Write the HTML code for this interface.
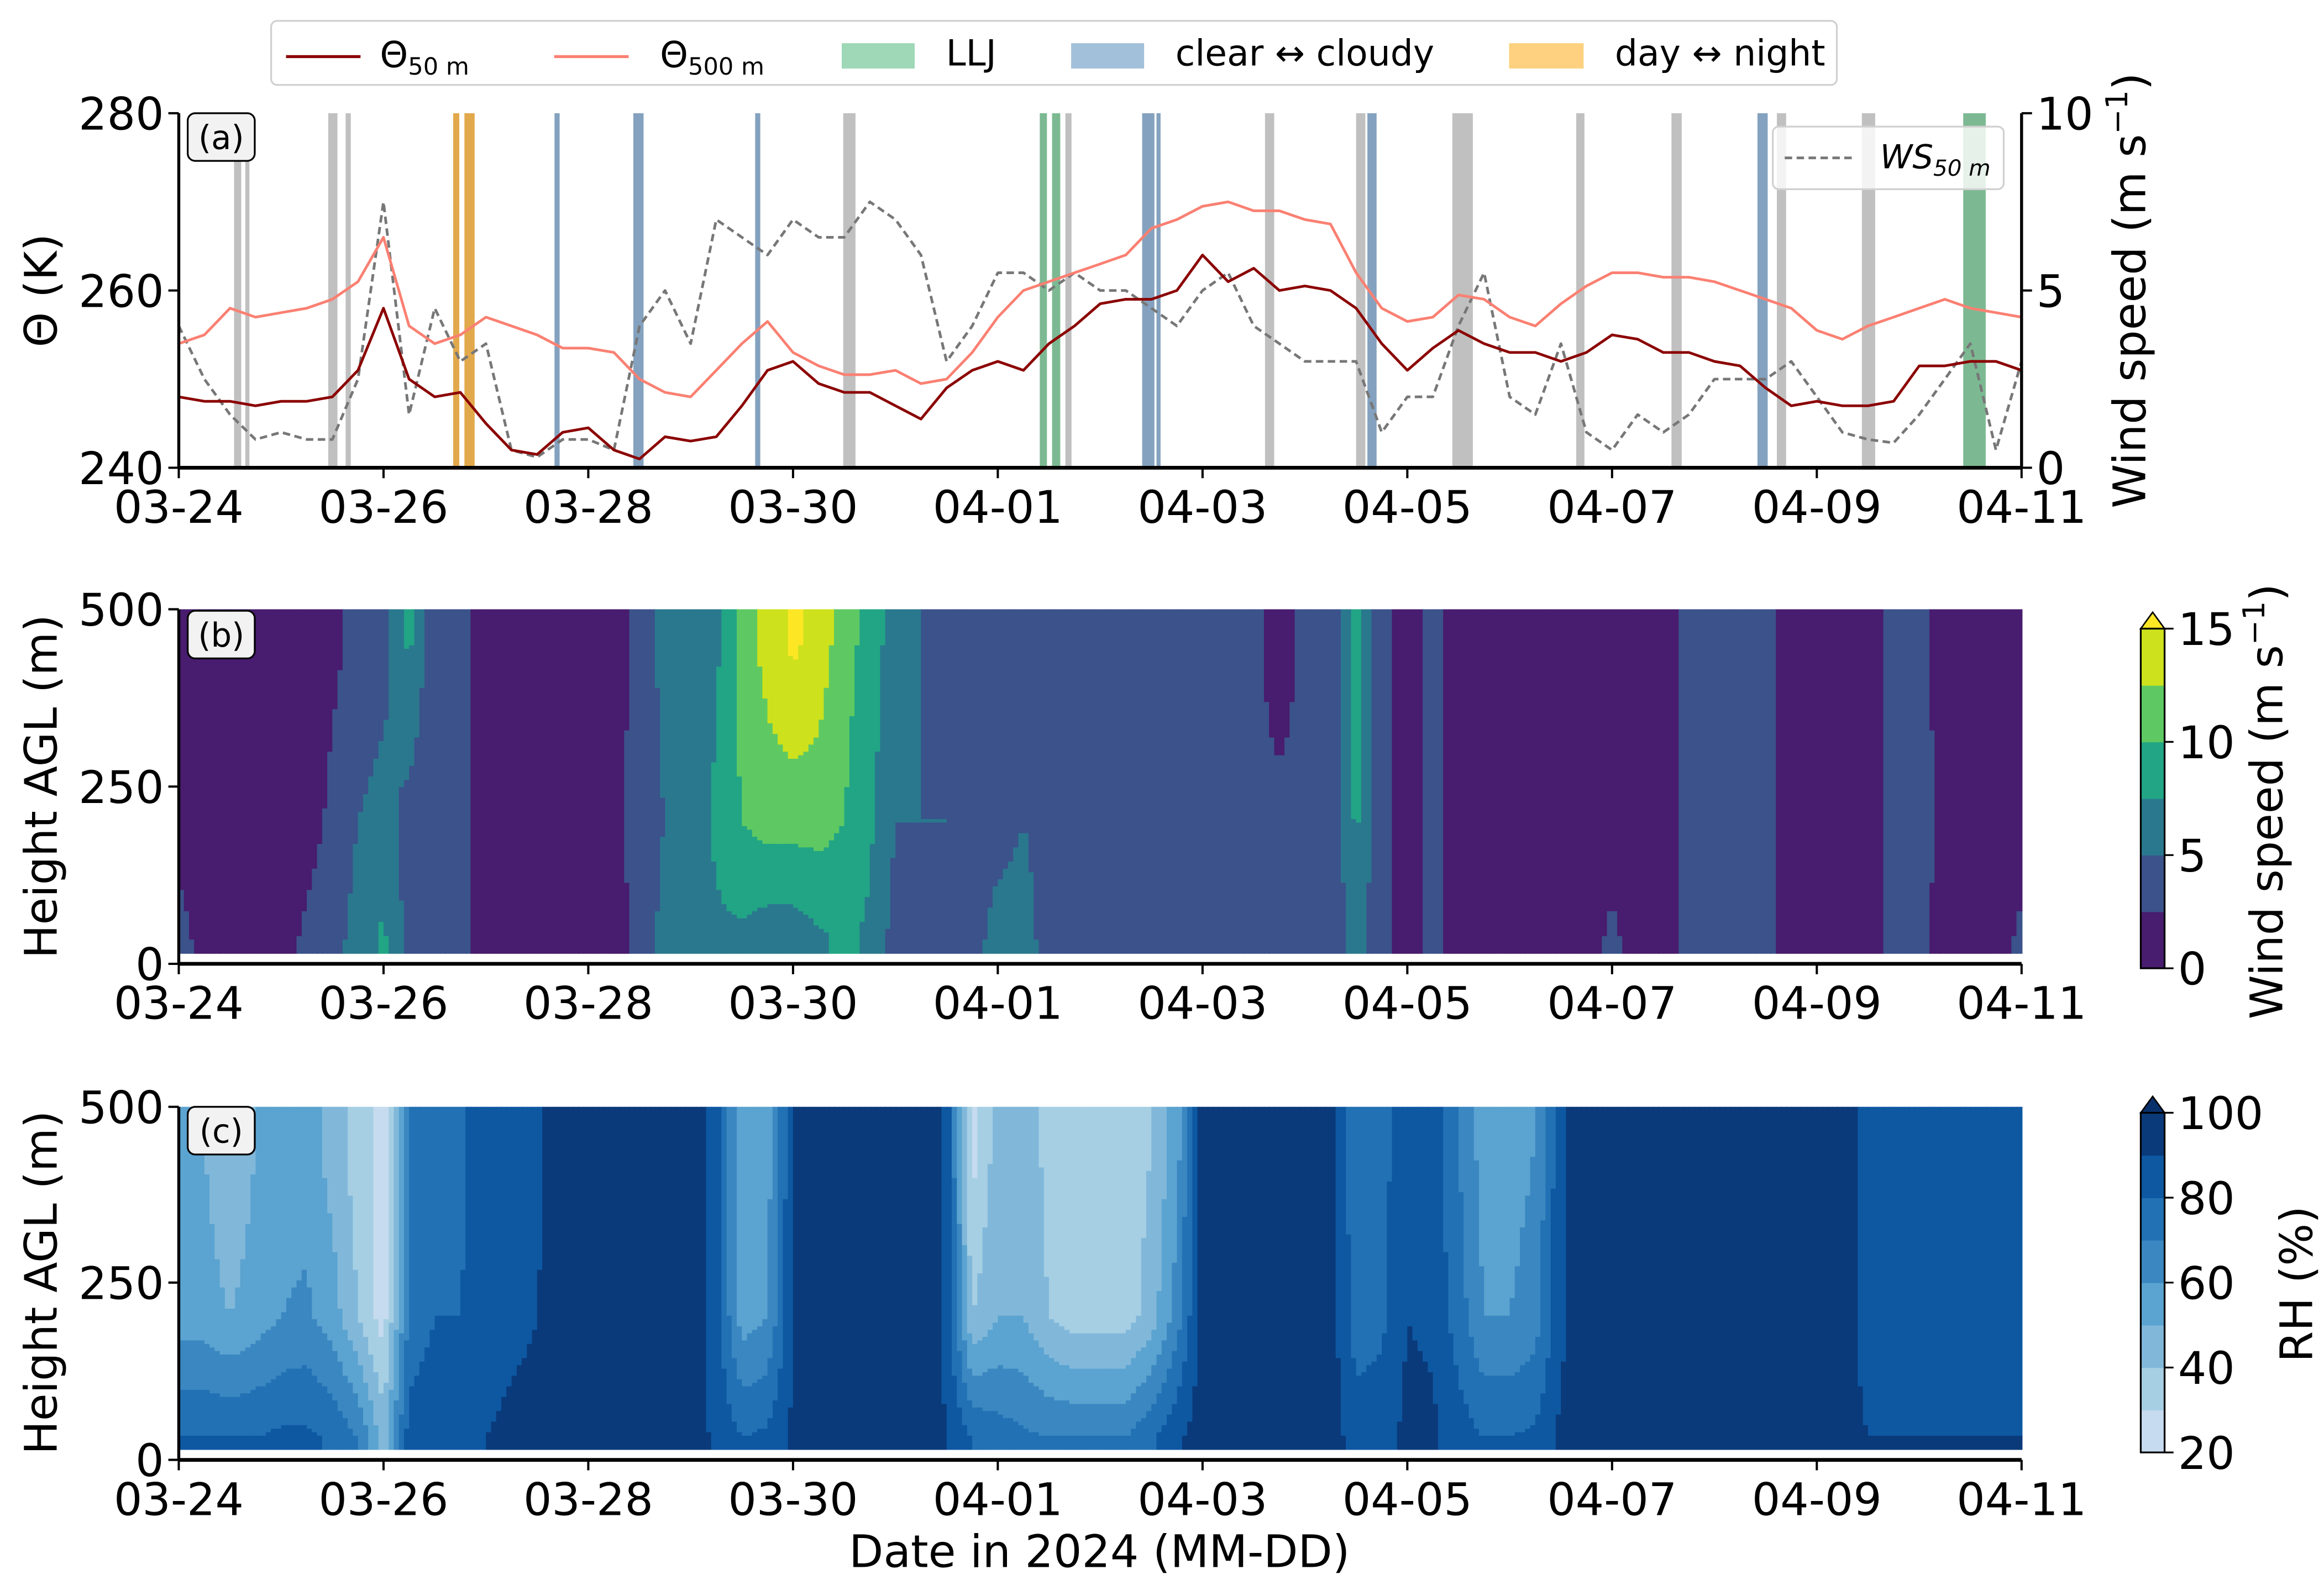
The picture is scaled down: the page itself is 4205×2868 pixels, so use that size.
<!DOCTYPE html>
<html><head><meta charset="utf-8"><style>
html,body{margin:0;padding:0;background:#fff}
svg{display:block}
text{font-family:"DejaVu Sans","Liberation Sans",sans-serif;fill:#000}
</style></head><body>
<svg id="fig" width="4205" height="2868" viewBox="0 0 1560 1064" xmlns="http://www.w3.org/2000/svg">
<g id="panelA"></g>
<g id="panelB"></g>
<g id="panelC"></g>
<g id="axes"></g>
</svg>
<script>
// ---- data (quarter-day steps, day 0 = 03-24) ----
const dateTicks = ["03-24","03-26","03-28","03-30","04-01","04-03","04-05","04-07","04-09","04-11"];
const theta500 = [254,255,258,257,257.5,258,259,261,266,256,254,255,257,256,255,253.5,253.5,253,250,248.5,248,251,254,256.5,253,251.5,250.5,250.5,251,249.5,250,253,257,260,261,262,263,264,267,268,269.5,270,269,269,268,267.5,262,258,256.5,257,259.5,259,257,256,258.5,260.5,262,262,261.5,261.5,261,260,259,258,255.5,254.5,256,257,258,259,258,257.5,257];
const theta50 = [248,247.5,247.5,247,247.5,247.5,248,251,258,250,248,248.5,245,242,241.5,244,244.5,242,241,243.5,243,243.5,247,251,252,249.5,248.5,248.5,247,245.5,249,251,252,251,254,256,258.5,259,259,260,264,261,262.5,260,260.5,260,258,254,251,253.5,255.5,254,253,253,252,253,255,254.5,253,253,252,251.5,249,247,247.5,247,247,247.5,251.5,251.5,252,252,251];
const ws50 = [4,2.5,1.5,0.8,1,0.8,0.8,2.5,7.5,1.5,4.5,3,3.5,0.5,0.3,0.8,0.8,0.5,4,5,3.5,7,6.5,6,7,6.5,6.5,7.5,7,6,3,4,5.5,5.5,5,5.5,5,5,4.5,4,5,5.5,4,3.5,3,3,3,1,2,2,4,5.5,2,1.5,3.5,1,0.5,1.5,1,1.5,2.5,2.5,2.5,3,2,1,0.8,0.7,1.5,2.5,3.5,0.5,3];
const grayBands = [[0.54,0.07],[0.65,0.04],[1.46,0.09],[1.63,0.05],[6.49,0.12],[8.66,0.06],[10.61,0.09],[11.50,0.09],[12.44,0.2],[13.65,0.08],[14.58,0.1],[15.61,0.09],[16.44,0.13]];
const cloudBands = [[3.67,0.05],[4.44,0.1],[5.63,0.05],[9.41,0.12],[9.55,0.04],[11.61,0.09],[15.42,0.1]];
const lljBands = [[8.41,0.07],[8.53,0.08],[17.43,0.22]];
const dayNightBands = [[2.68,0.06],[2.79,0.1]];
// wind speed profile (low ~30 m, mid ~200 m, high ~450 m)
const wsLow  = [3,2,1.5,1.5,1.5,3,4,6,8,4,3,3,1.5,1.5,1.5,1.5,1.5,1.5,3,6,6,7,7,6,6,7,8,7,4,3,4,4,6,6,4,3,3,4,3,4,3,3,3,3,3,3,6,3,1.5,3,1.5,1.5,1.5,1.5,1.5,1.5,3,1.5,1.5,3,3,3,3,1.5,1.5,1.5,1.5,3,3,1.5,1.5,1.5,3];
const wsMid  = [2,1.5,1.5,1.5,1.5,1.5,3,5,6,4,3,3,1.5,1.5,1.5,1.5,1.5,1.5,4,5,6,8,10,11,11,11,10,8,5,5,5,4,4,5,4,4,3,4,3,3.5,3,3,3,3,3,3,8,3,1.5,3,1.5,1.5,1.5,1.5,1.5,1.5,1.5,1.5,1.5,3,3,3,3,1.5,1.5,1.5,1.5,3,4,1.5,1.5,1.5,1.5];
const wsHigh = [2,1.5,1.5,1.5,1.5,1.5,2,3,4,8,3,3,1.5,1.5,1.5,1.5,1.5,1.5,3,6,6,7,11,13.5,15.5,14,11,9,6,5,4,4,3.5,4,3.5,3.5,3,3,4,3.5,3,4,3,1.5,3,3,9,3,1.5,3,1.5,1.5,1.5,1.5,1.5,1.5,1.5,1.5,1.5,3,3,3,3,1.5,1.5,1.5,1.5,3,3,1.5,1.5,1.5,1.5];
// relative humidity profile
const rhLow  = [80,80,80,80,82,82,78,70,45,85,88,88,90,92,92,95,95,95,95,95,95,88,80,82,92,95,95,95,95,95,90,80,75,72,70,70,70,70,78,88,95,95,95,95,95,95,85,85,93,92,85,80,80,82,92,95,95,95,95,95,95,95,95,95,95,95,90,90,90,90,90,90,90];
const rhMid  = [55,55,50,55,60,62,55,40,25,72,80,80,85,88,90,95,95,95,95,95,95,85,55,60,90,95,95,95,95,95,88,40,50,50,40,35,35,35,45,65,95,95,95,95,95,95,75,78,90,88,75,60,60,65,88,95,95,95,95,95,95,95,95,95,95,95,85,82,82,82,82,82,82];
const rhHigh = [50,50,40,50,55,55,45,35,25,70,75,78,85,85,88,95,95,95,95,95,95,85,50,55,90,95,95,95,95,95,88,25,45,50,35,32,32,32,40,55,95,95,95,95,95,95,72,75,90,85,70,55,55,60,88,95,95,95,95,95,95,95,95,95,95,95,85,85,85,85,85,85,85];
const wsLevels = [0,2.5,5,7.5,10,12.5,15];
const wsColors = ["#481c6e","#3b528b","#2a788e","#21a585","#5ec962","#cde11d","#fde725"];
const rhLevels = [20,30,40,50,60,70,80,90,100];
const rhColors = ["#c6dbef","#a6cfe4","#81b8da","#5ba3d0","#3a87c1","#2271b4","#0e58a2","#0a3a7a","#08306b"];

const NS="http://www.w3.org/2000/svg";
const X0=120, X1=1357, NDAYS=18;
const xs = d => X0 + d/NDAYS*(X1-X0);
const aTop=76, aBot=314;
const yT = t => aBot - (t-240)/40*(aBot-aTop);
const yW = w => aBot - w/10*(aBot-aTop);
function el(tag, attrs, parent){const e=document.createElementNS(NS,tag);for(const k in attrs)e.setAttribute(k,attrs[k]);parent.appendChild(e);return e;}
function txt(s, attrs, parent){const e=el('text',attrs,parent);e.textContent=s;return e;}
const A=document.getElementById('panelA'), B=document.getElementById('panelB'), C=document.getElementById('panelC'), AX=document.getElementById('axes');

// ---- panel a bands ----
function bands(arr,color,name){arr.forEach(b=>{const r=el('rect',{x:xs(b[0]),y:aTop,width:b[1]/NDAYS*(X1-X0),height:aBot-aTop,fill:color},A);

});}
bands(grayBands,'#c0c0c0','gray-band');
bands(cloudBands,'#84a2bf','clear-cloudy-band');
bands(lljBands,'#7cb992','llj-band');
bands(dayNightBands,'#e2a94c','day-night-band');
function line(arr,yf,color,w,dash,name){let p='';arr.forEach((v,i)=>{p+=(i?'L':'M')+xs(i/4).toFixed(1)+','+yf(v).toFixed(1);});
const l=el('path',{d:p,fill:'none',stroke:color,'stroke-width':w,'stroke-dasharray':dash||'none','stroke-linejoin':'round'},A);

}
line(ws50,yW,'#777','1.8','5,3','ws50-line');
line(theta500,yT,'#fa8072','1.8','', 'theta500-line');
line(theta50,yT,'#8b0000','1.8','', 'theta50-line');

// ---- heatmaps ----
function heat(parent,low,mid,high,levels,colors,yBot,yTop,name){
  const NC=360, NR=97, hmin=15;
  const cw=(X1-X0)/NC;
  function val(arr,t){const i=Math.min(Math.floor(t),arr.length-2);const f=t-i;return arr[i]*(1-f)+arr[i+1]*f;}
  function lvl(v){let k=0;for(let j=1;j<levels.length;j++){if(v>=levels[j])k=j;}return Math.min(k,colors.length-1);}
  const yh=h=>yBot-h/500*(yBot-yTop);
  for(let c=0;c<NC;c++){
    const t=(c+0.5)/NC*72;
    const lo=val(low,t),mi=val(mid,t),hi=val(high,t);
    let runStart=hmin, runK=-1;
    for(let r=0;r<=NR;r++){
      const h=hmin+(500-hmin)*r/NR;
      let v; if(h<30)v=lo; else if(h<200)v=lo+(mi-lo)*(h-30)/170; else v=mi+(hi-mi)*Math.min(1,(h-200)/250);
      const k=lvl(v);
      if(runK===-1){runK=k;runStart=h;}
      if(k!==runK||r===NR){
        const hEnd=(r===NR)?500:h;
        const rc=el('rect',{x:(X0+c*cw).toFixed(2),y:yh(hEnd).toFixed(2),width:(cw+0.6).toFixed(2),height:(yh(runStart)-yh(hEnd)+0.4).toFixed(2),fill:colors[runK]},parent);
        
        
        runK=k;runStart=h;
      }
    }
  }
}
heat(B,wsLow,wsMid,wsHigh,wsLevels,wsColors,647,409,'wind-speed-cell');
heat(C,rhLow,rhMid,rhHigh,rhLevels,rhColors,980,743,'rh-cell');

// ---- axes ----
function xaxis(y,labelY,name){
  el('line',{x1:X0,y1:y,x2:X1,y2:y,stroke:'#000','stroke-width':2.5},AX);
  dateTicks.forEach((s,i)=>{const x=xs(i*2);el('line',{x1:x,y1:y,x2:x,y2:y+7,stroke:'#000','stroke-width':1.5},AX);
   const t=txt(s,{x:x,y:labelY,'font-size':30,'text-anchor':'middle'},AX);
   
   });
}
function yaxis(x,ticks,side,name){
  el('line',{x1:x,y1:ticks[0][1],x2:x,y2:ticks[ticks.length-1][1],stroke:'#000','stroke-width':2},AX);
  ticks.forEach(tk=>{const d=side<0?-7:7;el('line',{x1:x,y1:tk[1],x2:x+d,y2:tk[1],stroke:'#000','stroke-width':1.5},AX);
   const t=txt(tk[0],{x:x+(side<0?-10:10),y:tk[1]+11,'font-size':30,'text-anchor':side<0?'end':'start'},AX);
   
   });
}
xaxis(314,351,'x-tick-label-a'); xaxis(647,684,'x-tick-label-b'); xaxis(980,1017,'x-tick-label-c');
yaxis(X0,[["280",76],["260",195],["240",314]],-1,'y-tick-label-a');
yaxis(X1,[["10",76],["5",195],["0",314]],1,'y2-tick-label-a');
yaxis(X0,[["500",409],["250",528],["0",647]],-1,'y-tick-label-b');
yaxis(X0,[["500",743],["250",861],["0",980]],-1,'y-tick-label-c');

// panel tags
[["(a)",92],["(b)",426],["(c)",759]].forEach((p,i)=>{
  const g=el('g',{},AX);
  
  
  el('rect',{x:126,y:p[1]-16,width:45,height:32,rx:5,fill:'#f2f2f2',stroke:'#000','stroke-width':1.2},g);
  txt(p[0],{x:148.5,y:p[1]+8,'font-size':22,'text-anchor':'middle'},g);
});

// colorbars
function cbar(levels,colors,yb,yt,ticks,name){
  const n=levels.length-1, hgt=(yb-yt)/n;
  const x=1437,w=16;
  for(let i=0;i<n;i++){const r=el('rect',{x:x,y:yb-(i+1)*hgt,width:w,height:hgt+0.3,fill:colors[i]},AX);
    
    }
  el('polygon',{points:`${x},${yt} ${x+w/2},${yt-11} ${x+w},${yt}`,fill:colors[colors.length-1],stroke:'#000','stroke-width':1},AX);
  el('rect',{x:x,y:yt,width:w,height:yb-yt,fill:'none',stroke:'#000','stroke-width':1.2},AX);
  ticks.forEach(tk=>{const y=yb-(tk-levels[0])/(levels[n]-levels[0])*(yb-yt);
    el('line',{x1:x+w,y1:y,x2:x+w+6,y2:y,stroke:'#000','stroke-width':1.2},AX);
    const t=txt(String(tk),{x:x+w+9,y:y+11,'font-size':30},AX);
    
    });
}
cbar(wsLevels,wsColors,650,422,[0,5,10,15],'ws-colorbar');
cbar(rhLevels,rhColors,975,747,[20,40,60,80,100],'rh-colorbar');
</script>
<svg style="position:absolute;left:0;top:0" width="4205" height="2868" viewBox="0 0 1560 1064" xmlns="http://www.w3.org/2000/svg" font-family="DejaVu Sans, Liberation Sans, sans-serif">
<text transform="translate(38,195) rotate(-90)" font-size="30" text-anchor="middle">Θ (K)</text>
<text transform="translate(1440,195) rotate(-90)" font-size="30" text-anchor="middle">Wind speed (m s<tspan font-size="20" dy="-12">−1</tspan><tspan dy="12">)</tspan></text>
<text transform="translate(38,528) rotate(-90)" font-size="30" text-anchor="middle">Height AGL (m)</text>
<text transform="translate(38,861) rotate(-90)" font-size="30" text-anchor="middle">Height AGL (m)</text>
<text transform="translate(1532,538) rotate(-90)" font-size="30" text-anchor="middle">Wind speed (m s<tspan font-size="20" dy="-12">−1</tspan><tspan dy="12">)</tspan></text>
<text transform="translate(1552,862) rotate(-90)" font-size="30" text-anchor="middle">RH (%)</text>
<text x="738" y="1052" font-size="30" text-anchor="middle">Date in 2024 (MM-DD)</text>
<g>
<rect x="182" y="14" width="1051" height="43" rx="4" fill="#fff" stroke="#d0d0d0" stroke-width="1.2"/>
<line x1="192" y1="38" x2="242" y2="38" stroke="#8b0000" stroke-width="2"/>
<text x="255" y="45" font-size="24">Θ<tspan font-size="16" dy="5">50 m</tspan></text>
<line x1="372" y1="38" x2="422" y2="38" stroke="#fa8072" stroke-width="2"/>
<text x="443" y="45" font-size="24">Θ<tspan font-size="16" dy="5">500 m</tspan></text>
<rect x="565" y="29" width="49" height="17" fill="#9ed8b6"/>
<text x="635" y="44" font-size="24">LLJ</text>
<rect x="719" y="29" width="49" height="17" fill="#a3c0da"/>
<text x="789" y="44" font-size="24">clear ↔ cloudy</text>
<rect x="1013" y="29" width="50" height="17" fill="#fdd17f"/>
<text x="1084" y="44" font-size="24">day ↔ night</text>
</g>
<g>
<rect x="1190" y="85" width="155" height="42" rx="4" fill="#fff" fill-opacity="0.8" stroke="#d0d0d0" stroke-width="1.2"/>
<line x1="1198" y1="106" x2="1245" y2="106" stroke="#777" stroke-width="1.8" stroke-dasharray="5,3"/>
<text x="1262" y="113" font-size="22" font-style="italic">WS<tspan font-size="15" dy="5">50 m</tspan></text>
</g>
</svg>
</body></html>
